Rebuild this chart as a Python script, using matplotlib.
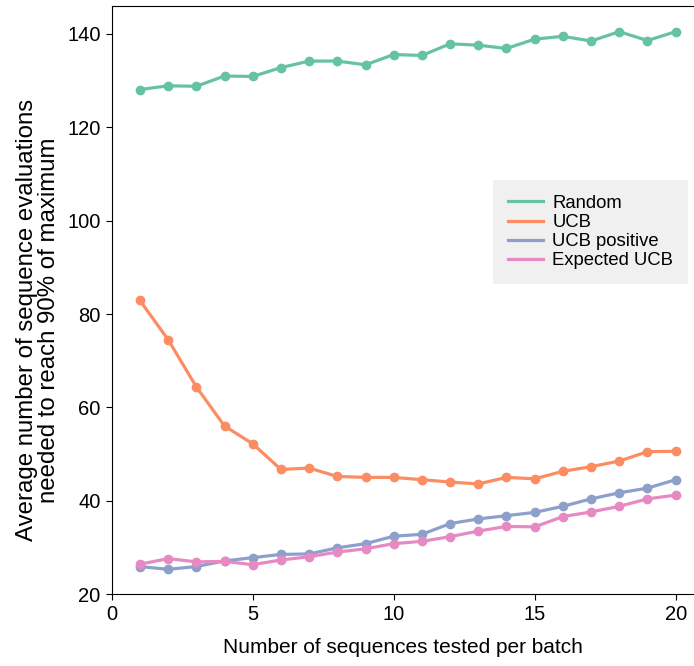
import numpy as np
import matplotlib
matplotlib.use("Agg")
import matplotlib.pyplot as plt

plt.rcParams['font.family'] = ['Liberation Sans', 'DejaVu Sans']

# ── Data ──────────────────────────────────────────────────────────────────────
batch = list(range(1, 21))
random_vals = [128.1, 128.9, 128.8, 131.0, 130.9, 132.8, 134.2, 134.2, 133.4, 135.6,
               135.4, 137.9, 137.6, 136.9, 138.9, 139.5, 138.5, 140.5, 138.6, 140.5]
ucb_vals = [82.9, 74.5, 64.4, 56.0, 52.2, 46.7, 47.0, 45.2, 45.0, 45.0,
            44.5, 44.0, 43.6, 45.0, 44.7, 46.3, 47.3, 48.5, 50.5, 50.6]
ucb_pos_vals = [25.9, 25.3, 25.9, 27.1, 27.8, 28.5, 28.6, 29.9, 30.8, 32.4,
                32.8, 35.1, 36.1, 36.8, 37.5, 38.8, 40.4, 41.7, 42.7, 44.5]
exp_ucb_vals = [26.4, 27.6, 26.9, 27.0, 26.3, 27.3, 28.0, 29.0, 29.7, 30.8,
                31.3, 32.3, 33.5, 34.5, 34.4, 36.6, 37.6, 38.8, 40.4, 41.2]

series = {
    "Random": random_vals,
    "UCB": ucb_vals,
    "UCB positive": ucb_pos_vals,
    "Expected UCB": exp_ucb_vals,
}
colors = ["#66c2a5", "#fc8d62", "#8da0cb", "#e78ac3"]

# ── Plot ──────────────────────────────────────────────────────────────────────
fig = plt.figure(figsize=(6.94, 6.66), dpi=100)
ax = fig.add_axes([0.161, 0.108, 0.839, 0.883])

for (name, vals), c in zip(series.items(), colors):
    ax.plot(batch, vals, color=c, linewidth=2.3, marker='o', markersize=6,
            label=name)

ax.set_xlim(0, 20.65)
ax.set_ylim(20, 146)
ax.set_xticks([0, 5, 10, 15, 20])
ax.set_yticks([20, 40, 60, 80, 100, 120, 140])
ax.tick_params(labelsize=14.5, length=4.5)
ax.spines['right'].set_visible(False)

ax.set_xlabel('Number of sequences tested per batch', fontsize=15, labelpad=10)
ax.set_ylabel('Average number of sequence evaluations\nneeded to reach 90% of maximum',
              fontsize=17.3, linespacing=1.0)
ax.yaxis.set_label_coords(-0.089, 0.466)

handles = [plt.Line2D([], [], color=c, linewidth=2.3) for c in colors]
leg = ax.legend(handles, list(series.keys()), loc='upper left',
                bbox_to_anchor=(0.655, 0.704), fontsize=13.3, frameon=True,
                fancybox=False, handlelength=1.9, borderpad=0.8,
                labelspacing=0.12, handletextpad=0.5, borderaxespad=0)
leg.get_frame().set_facecolor('#f0f0f0')
leg.get_frame().set_edgecolor('none')
leg.get_frame().set_alpha(1)

fig.savefig('out.png', dpi=100)
